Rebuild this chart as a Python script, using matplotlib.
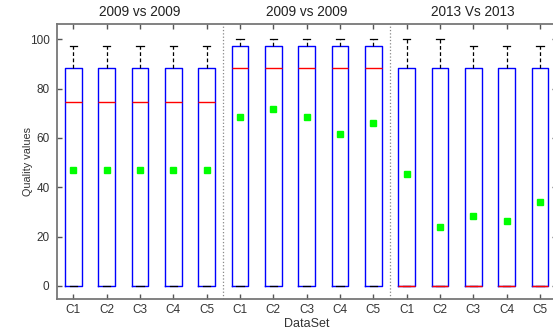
import numpy as np
import matplotlib
matplotlib.use("Agg")
import matplotlib.pyplot as plt

plt.rcParams['font.family'] = ['Liberation Sans', 'DejaVu Sans']

# box statistics (three comparisons x five datasets)
labels = ['C1', 'C2', 'C3', 'C4', 'C5'] * 3
group_titles = ['2009 vs 2009', '2009 vs 2009', '2013 Vs 2013']
whislo = [0] * 15
q1 = [0] * 15
med = [74.5] * 5 + [88.4] * 5 + [0] * 5
q3 = [88.4] * 5 + [97.4] * 5 + [88.4] * 5
whishi = [97.4] * 5 + [100] * 5 + [100, 100, 97.4, 97.4, 97.4]
means = [47.2, 47.2, 47.2, 47.2, 47.2,
         68.6, 71.8, 68.6, 61.8, 65.9,
         45.5, 24.1, 28.2, 26.4, 34.2]

stats = []
for i in range(15):
    stats.append(dict(label=labels[i], whislo=whislo[i], q1=q1[i], med=med[i],
                      q3=q3[i], whishi=whishi[i], mean=means[i], fliers=[]))

fig = plt.figure(figsize=(5.53, 3.29), dpi=100)
ax = fig.add_axes([0.1022, 0.0903, 0.9042, 0.8359])

pos = np.arange(1, 16)
ax.bxp(stats, positions=pos, widths=0.5, capwidths=0.22, showmeans=True,
       boxprops=dict(color='#0000ff', linewidth=1.0),
       medianprops=dict(color='#ff0000', linewidth=1.0),
       whiskerprops=dict(color='black', linewidth=0.9, linestyle=(0, (3, 2))),
       capprops=dict(color='black', linewidth=0.9),
       meanprops=dict(marker='s', markerfacecolor='#00ff00',
                      markeredgecolor='#00ff00', markersize=4.3))

# dotted separators between the three comparisons
for x in [5.5, 10.5]:
    ax.axvline(x, color='#888888', linestyle=':', linewidth=0.9)

for k, t in enumerate(group_titles):
    ax.annotate(t, xy=(3 + 5 * k, 1.0), xycoords=('data', 'axes fraction'),
                xytext=(0, 4), textcoords='offset points',
                ha='center', va='bottom', fontsize=9.8, color='#222222')

ax.set_xlim(0.5, 15.5)
ax.set_ylim(-5.4, 106.1)
ax.set_yticks([0, 20, 40, 60, 80, 100])
ax.set_xticks(pos)
ax.set_xticklabels(labels)
ax.tick_params(direction='in', length=3.6, width=1.0, color='#555555',
               labelsize=8.5, labelcolor='#333333', top=True, right=True)
ax.tick_params(axis='y', pad=5)
for s in ax.spines.values():
    s.set_color('#777777')
    s.set_linewidth(1.3)

ax.set_xlabel('DataSet', fontsize=9, color='#333333', labelpad=1)
ax.set_ylabel('Quality values', fontsize=7.8, color='#333333')
ax.yaxis.set_label_coords(-0.047, 0.5)

fig.savefig('out.png', dpi=100)
